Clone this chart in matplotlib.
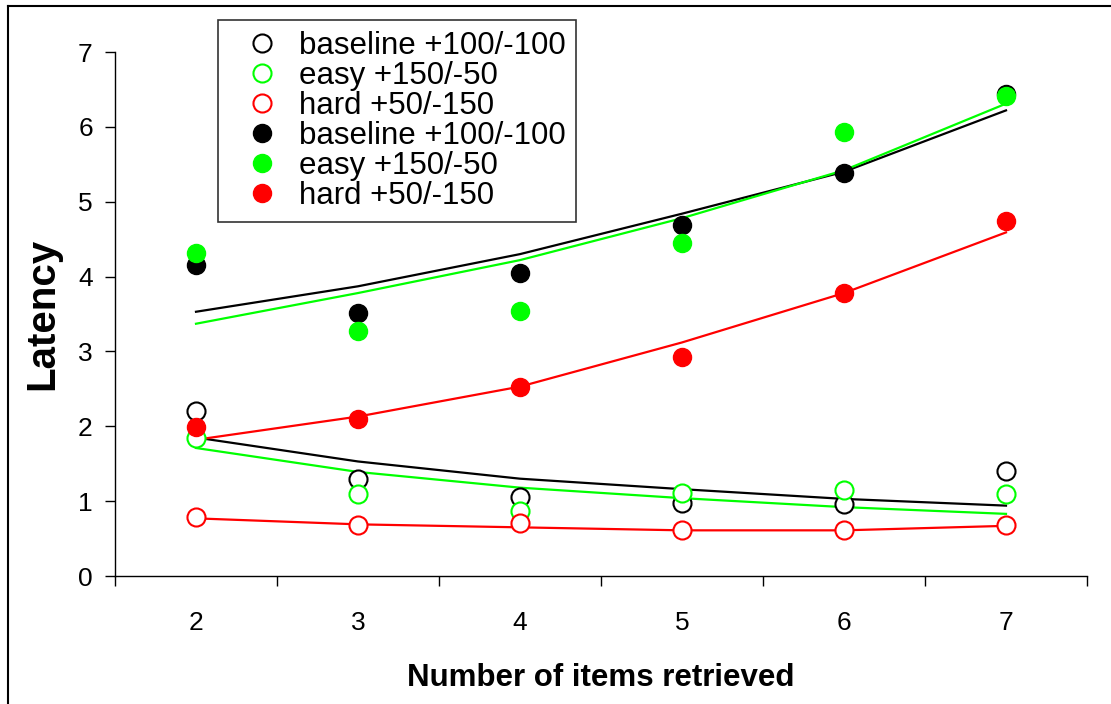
import matplotlib
matplotlib.use("Agg")
import matplotlib.pyplot as plt
from matplotlib.lines import Line2D

plt.rcParams['font.family'] = ['Liberation Sans', 'DejaVu Sans']

items = [2, 3, 4, 5, 6, 7]
labels = ["baseline +100/-100", "easy +150/-50", "hard +50/-150"]
colors = ["#000000", "#00FF00", "#FF0000"]

# observed latencies, lower set (open circles)
open_baseline = [2.20, 1.30, 1.06, 0.98, 0.96, 1.40]
open_easy = [1.84, 1.10, 0.87, 1.11, 1.15, 1.10]
open_hard = [0.79, 0.68, 0.71, 0.61, 0.61, 0.68]
# observed latencies, upper set (filled circles)
filled_baseline = [4.15, 3.51, 4.05, 4.69, 5.38, 6.44]
filled_easy = [4.31, 3.27, 3.54, 4.45, 5.93, 6.41]
filled_hard = [1.99, 2.10, 2.52, 2.93, 3.78, 4.74]
# model fits
fit_open_baseline = [1.85, 1.53, 1.30, 1.16, 1.03, 0.94]
fit_open_easy = [1.71, 1.39, 1.18, 1.04, 0.92, 0.83]
fit_open_hard = [0.77, 0.69, 0.65, 0.61, 0.61, 0.67]
fit_filled_baseline = [3.53, 3.87, 4.30, 4.84, 5.40, 6.22]
fit_filled_easy = [3.37, 3.78, 4.22, 4.78, 5.42, 6.31]
fit_filled_hard = [1.82, 2.13, 2.53, 3.12, 3.78, 4.59]

fig = plt.figure(figsize=(11.11, 7.04), dpi=100)
ax = fig.add_axes([115/1111, 1-576/704, (1087-115)/1111, (576-52)/704])

fits = [fit_open_baseline, fit_open_easy, fit_open_hard,
        fit_filled_baseline, fit_filled_easy, fit_filled_hard]
fit_cols = colors + colors
for f, c in zip(fits, fit_cols):
    ax.plot(items, f, color=c, lw=1.6, zorder=2)

ms = 13
handles = []
for vals, c, lab in zip([open_baseline, open_easy, open_hard], colors, labels):
    h, = ax.plot(items, vals, 'o', ms=ms, mfc='white', mec=c, mew=1.5,
                 ls='none', label=lab, zorder=3)
    handles.append(h)
for vals, c, lab in zip([filled_baseline, filled_easy, filled_hard], colors, labels):
    h, = ax.plot(items, vals, 'o', ms=ms, mfc=c, mec=c, mew=1.0,
                 ls='none', label=lab, zorder=4)
    handles.append(h)

ax.set_xlim(1.5, 7.5)
ax.set_ylim(0, 7)
ax.set_xticks(items)
ax.set_xticks([1.5, 2.5, 3.5, 4.5, 5.5, 6.5, 7.5], minor=True)
ax.set_yticks(range(0, 8))
ax.tick_params(axis='x', which='major', length=0, pad=25, labelsize=19)
ax.tick_params(axis='x', which='minor', length=7, width=1, direction='out')
ax.tick_params(axis='y', which='major', length=7, width=1, direction='out',
               pad=9, labelsize=19)
for s in ['top', 'right']:
    ax.spines[s].set_visible(False)
for s in ['left', 'bottom']:
    ax.spines[s].set_linewidth(1.0)

ax.set_xlabel("Number of items retrieved", fontsize=22.5, fontweight='bold', labelpad=20)
ax.set_ylabel("Latency", fontsize=29, fontweight='bold', labelpad=12)

leg = fig.legend(handles=handles, loc='upper left',
                 bbox_to_anchor=(218/1111, 1-20/704), fontsize=22.5,
                 frameon=True, fancybox=False, handlelength=2.1,
                 handletextpad=0.13, labelspacing=0.0, borderpad=0.35,
                 borderaxespad=0)
leg.get_frame().set_edgecolor('black')
leg.get_frame().set_linewidth(1.2)

# figure border (top and left visible)
fig.add_artist(Line2D([8/1111, 1.0], [1-6/704, 1-6/704], color='black', lw=1.5,
                      transform=fig.transFigure))
fig.add_artist(Line2D([8/1111, 8/1111], [0, 1-6/704], color='black', lw=1.5,
                      transform=fig.transFigure))

fig.savefig("out.png", dpi=100)
